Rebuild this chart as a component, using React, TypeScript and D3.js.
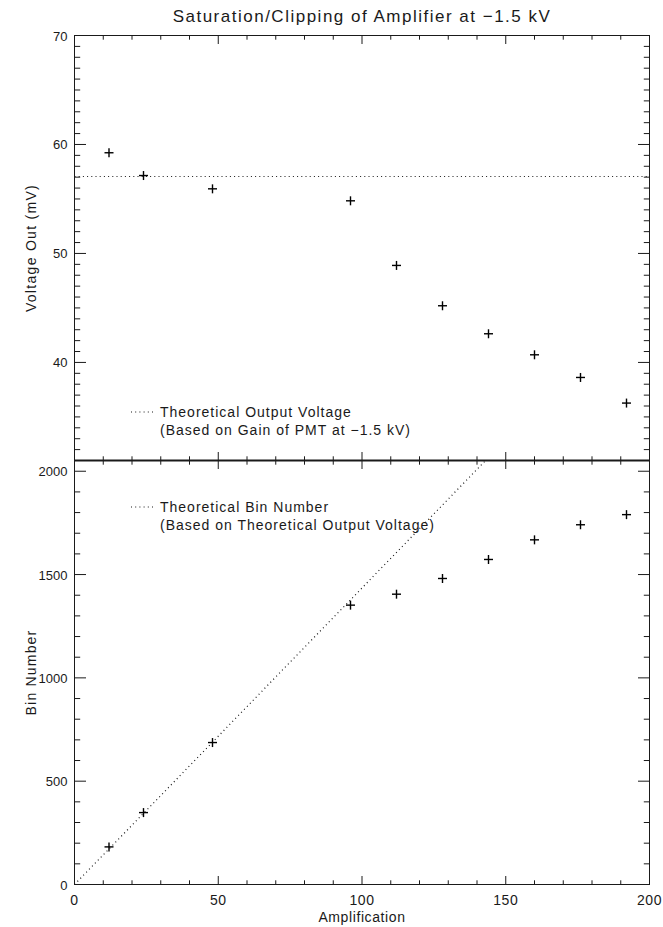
import * as d3 from "d3";

// Amplifier saturation data
const amplification = [12, 24, 48, 96, 112, 128, 144, 160, 176, 192];
const voltageOut = [59.24, 57.15, 55.93, 54.83, 48.9, 45.2, 42.63, 40.7, 38.62, 36.27];
const binNumber = [182, 348, 687, 1352, 1405, 1481, 1573, 1668, 1741, 1790];

const theoreticalVoltage = 57.06; // mV
const theoreticalBinsPerAmp = 14.35; // theoretical bin number per unit of amplification

const xDomain = [0, 200];
const voltDomain = [31, 70];
const binDomain = [0, 2052];

const xMajorTicks = [0, 50, 100, 150, 200];
const voltMajorTicks = [40, 50, 60, 70];
const binMajorTicks = [0, 500, 1000, 1500, 2000];

const xMinorStep = 10;
const voltMinorStep = 1;
const binMinorStep = 100;

const W = 663;
const H = 927;
const left = 74.5;
const right = 649.5;
const top = 35.5;
const mid = 460.5;
const bottom = 884.5;

const FONT = "'Liberation Sans', Arial, sans-serif";
const INK = "#1a1a1a";

const x = d3.scaleLinear().domain(xDomain).range([left, right]);
const yVolt = d3.scaleLinear().domain(voltDomain).range([mid, top]);
const yBin = d3.scaleLinear().domain(binDomain).range([bottom, mid]);

const minors = (domain: number[], step: number, majors: number[]) =>
  d3.range(Math.ceil(domain[0] / step) * step, domain[1] + 1e-9, step).filter((v) => !majors.includes(v));

function Panel({
  y,
  y0,
  y1,
  yMajors,
  yMinorStep,
  showXLabels,
}: {
  y: d3.ScaleLinear<number, number>;
  y0: number;
  y1: number;
  yMajors: number[];
  yMinorStep: number;
  showXLabels: boolean;
}) {
  const yDom = y.domain();
  const xMin = minors(xDomain, xMinorStep, xMajorTicks);
  const yMin = minors(yDom, yMinorStep, yMajors);
  const xMaj = 8.5, xMn = 4.2, yMaj = 11.5, yMn = 5.7;
  return (
    <g stroke={INK} strokeWidth={1} fill="none">
      <rect x={left} y={y0} width={right - left} height={y1 - y0} />
      {xMajorTicks.map((v) => (
        <g key={"xM" + v}>
          <line x1={x(v)} x2={x(v)} y1={y1} y2={y1 - xMaj} />
          <line x1={x(v)} x2={x(v)} y1={y0} y2={y0 + xMaj} />
        </g>
      ))}
      {xMin.map((v) => (
        <g key={"xm" + v}>
          <line x1={x(v)} x2={x(v)} y1={y1} y2={y1 - xMn} />
          <line x1={x(v)} x2={x(v)} y1={y0} y2={y0 + xMn} />
        </g>
      ))}
      {yMajors.map((v) => (
        <g key={"yM" + v}>
          <line x1={left} x2={left + yMaj} y1={y(v)} y2={y(v)} />
          <line x1={right} x2={right - yMaj} y1={y(v)} y2={y(v)} />
          <text
            x={left - 7}
            y={y(v) + 5}
            textAnchor="end"
            stroke="none"
            fill={INK}
            fontSize={13}
            fontFamily={FONT}
          >
            {v}
          </text>
        </g>
      ))}
      {yMin.map((v) => (
        <g key={"ym" + v}>
          <line x1={left} x2={left + yMn} y1={y(v)} y2={y(v)} />
          <line x1={right} x2={right - yMn} y1={y(v)} y2={y(v)} />
        </g>
      ))}
      {showXLabels &&
        xMajorTicks.map((v) => (
          <text
            key={"xl" + v}
            x={x(v)}
            y={y1 + 20}
            textAnchor="middle"
            stroke="none"
            fill={INK}
            fontSize={14}
            fontFamily={FONT}
            letterSpacing={0.5}
          >
            {v}
          </text>
        ))}
    </g>
  );
}

function Plus({ cx, cy }: { cx: number; cy: number }) {
  const s = 4.5;
  return (
    <g stroke="#000" strokeWidth={1.4}>
      <line x1={cx - s} x2={cx + s} y1={cy} y2={cy} />
      <line x1={cx} x2={cx} y1={cy - s} y2={cy + s} />
    </g>
  );
}

function Legend({ lx, ly, lines }: { lx: number; ly: number; lines: string[] }) {
  return (
    <g fontFamily={FONT} fontSize={14} fill={INK} letterSpacing={1}>
      <line x1={lx} x2={lx + 24} y1={ly - 1} y2={ly - 1} stroke={INK} strokeWidth={1.2} strokeDasharray="1,3.2" />
      {lines.map((t, i) => (
        <text key={i} x={lx + 29} y={ly + 4 + i * 18}>
          {t}
        </text>
      ))}
    </g>
  );
}

export default function App() {
  const binLine = d3
    .line<number>()
    .x((a) => x(a))
    .y((a) => yBin(a * theoreticalBinsPerAmp));
  const ampLine = [0, 200];

  return (
    <svg width={W} height={H} style={{ position: "absolute", left: 0, top: 0, background: "#fff" }}>
      <defs>
        <clipPath id="clipBin">
          <rect x={left} y={mid} width={right - left} height={bottom - mid} />
        </clipPath>
      </defs>
      <rect width={W} height={H} fill="#fff" />

      <text
        x={(left + right) / 2}
        y={22}
        textAnchor="middle"
        fontFamily={FONT}
        fontSize={17}
        letterSpacing={1.5}
        fill={INK}
      >
        Saturation/Clipping of Amplifier at −1.5 kV
      </text>

      {/* top panel: voltage out */}
      <line
        x1={left}
        x2={right}
        y1={yVolt(theoreticalVoltage)}
        y2={yVolt(theoreticalVoltage)}
        stroke={INK}
        strokeWidth={1.2}
        strokeDasharray="1,3.2"
      />
      {amplification.map((a, i) => (
        <Plus key={"v" + i} cx={x(a)} cy={yVolt(voltageOut[i])} />
      ))}
      <Legend lx={131} ly={413} lines={["Theoretical Output Voltage", "(Based on Gain of PMT at −1.5 kV)"]} />
      <Panel y={yVolt} y0={top} y1={mid} yMajors={voltMajorTicks} yMinorStep={voltMinorStep} showXLabels={false} />
      <text
        transform={`translate(36,${(top + mid) / 2}) rotate(-90)`}
        textAnchor="middle"
        fontFamily={FONT}
        fontSize={14}
        letterSpacing={1.3}
        fill={INK}
      >
        Voltage Out (mV)
      </text>

      {/* bottom panel: bin number */}
      <path
        d={binLine(ampLine) || ""}
        clipPath="url(#clipBin)"
        fill="none"
        stroke={INK}
        strokeWidth={1.2}
        strokeDasharray="1,3.2"
      />
      {amplification.map((a, i) => (
        <Plus key={"b" + i} cx={x(a)} cy={yBin(binNumber[i])} />
      ))}
      <Legend lx={131} ly={508} lines={["Theoretical Bin Number", "(Based on Theoretical Output Voltage)"]} />
      <Panel y={yBin} y0={mid} y1={bottom} yMajors={binMajorTicks} yMinorStep={binMinorStep} showXLabels={true} />
      <line x1={left} x2={right} y1={mid} y2={mid} stroke={INK} strokeWidth={2} />
      <text
        transform={`translate(36,${(mid + bottom) / 2}) rotate(-90)`}
        textAnchor="middle"
        fontFamily={FONT}
        fontSize={14}
        letterSpacing={1.2}
        fill={INK}
      >
        Bin Number
      </text>
      <text
        x={(left + right) / 2}
        y={922}
        textAnchor="middle"
        fontFamily={FONT}
        fontSize={14}
        letterSpacing={0.6}
        fill={INK}
      >
        Amplification
      </text>
    </svg>
  );
}
